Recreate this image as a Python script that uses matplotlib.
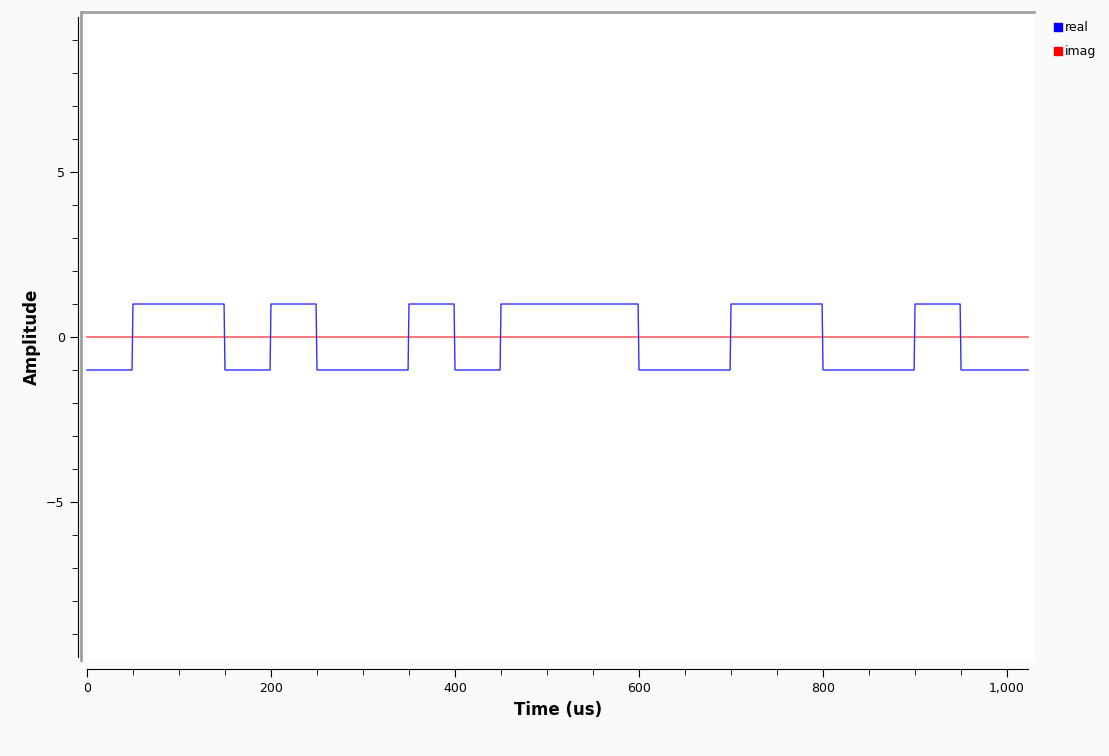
import numpy as np
import matplotlib
matplotlib.use("Agg")
import matplotlib.pyplot as plt
from matplotlib.ticker import MultipleLocator, FuncFormatter
from matplotlib.lines import Line2D

# bit values, 50 samples each, 1024 samples total
bits = [-1, 1, 1, -1, 1, -1, -1, 1, -1, 1, 1, 1, -1, -1, 1, 1, -1, -1, 1, -1, -1]
samples_per_bit = 50
n_samples = 1024

real = np.repeat(bits, samples_per_bit)[:n_samples].astype(float)
imag = np.zeros(n_samples)
t = np.arange(n_samples)

W, H = 1109, 756
fig = plt.figure(figsize=(W / 100, H / 100), dpi=100, facecolor="#fafafa")
ax = fig.add_axes([82 / W, 1 - 662 / H, (1034 - 82) / W, (662 - 12) / H])
ax.set_facecolor("white")

ax.plot(t, imag, color="#ff6060", lw=1.2, label="imag")
ax.plot(t, real, color="#3030ff", lw=1.0, label="real")

ax.set_xlim(-5.4, 1029.3)
ax.set_ylim(-9.85, 9.85)

for s in ("top", "right"):
    ax.spines[s].set_visible(False)
ax.spines["left"].set_position(("outward", 3))
ax.spines["left"].set_bounds(-9.7, 9.7)
ax.spines["bottom"].set_position(("outward", 5))
ax.spines["bottom"].set_bounds(0, 1023)

ax.xaxis.set_major_locator(MultipleLocator(200))
ax.xaxis.set_minor_locator(MultipleLocator(50))
ax.yaxis.set_major_locator(MultipleLocator(5))
ax.yaxis.set_minor_locator(MultipleLocator(1))
ax.xaxis.set_major_formatter(FuncFormatter(lambda v, p: f"{int(v):,}"))
ax.tick_params(which="major", length=6, labelsize=9)
ax.tick_params(which="minor", length=4)

ax.set_xlabel("Time (us)", fontsize=12, fontweight="bold")
ax.set_ylabel("Amplitude", fontsize=12, fontweight="bold")

# grey frame lines (top and left)
fig.add_artist(Line2D([82 / W, 1034 / W], [1 - 12 / H, 1 - 12 / H], color="#a0a0a0", lw=2))
fig.add_artist(Line2D([81 / W, 81 / W], [1 - 12 / H, 1 - 660 / H], color="#a0a0a0", lw=2))

handles = [Line2D([], [], marker="s", ls="", color="blue", markersize=6),
           Line2D([], [], marker="s", ls="", color="red", markersize=6)]
fig.legend(handles, ["real", "imag"], loc="upper left", bbox_to_anchor=(1040 / W, 1 - 10 / H),
           frameon=False, fontsize=9, handletextpad=0.1, labelspacing=0.9, handlelength=1)

fig.savefig("out.png", dpi=100, facecolor=fig.get_facecolor())
